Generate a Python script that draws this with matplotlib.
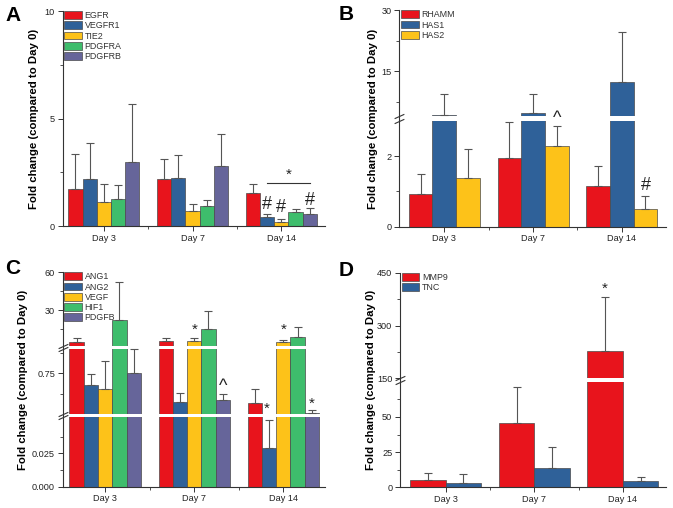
import numpy as np
import matplotlib
matplotlib.use('Agg')
import matplotlib.pyplot as plt
import matplotlib.transforms as mtransforms
from matplotlib.ticker import FixedLocator, FixedFormatter

plt.rcParams['font.family'] = ['Liberation Sans', 'DejaVu Sans']

days = ['Day 3', 'Day 7', 'Day 14']

# Panel A: receptor genes
a_names = ['EGFR', 'VEGFR1', 'TIE2', 'PDGFRA', 'PDGFRB']
a_mean = [[1.75, 2.18, 1.53],
          [2.21, 2.24, 0.43],
          [1.15, 0.70, 0.22],
          [1.25, 0.96, 0.68],
          [2.99, 2.82, 0.59]]
a_sd = [[1.62, 0.95, 0.45],
        [1.66, 1.09, 0.16],
        [0.80, 0.34, 0.12],
        [0.65, 0.28, 0.12],
        [2.71, 1.48, 0.25]]

# Panel B: hyaluronan genes
b_names = ['RHAMM', 'HAS1', 'HAS2']
b_mean = [[0.94, 1.94, 1.15],
          [4.15, 4.66, 12.3],
          [1.37, 2.28, 0.49]]
b_sd = [[0.55, 1.01, 0.58],
        [5.15, 4.64, 12.3],
        [0.83, 0.57, 0.39]]

# Panel C: growth factors
c_names = ['ANG1', 'ANG2', 'VEGF', 'HIF1', 'PDGFB']
c_mean = [[4.3, 5.1, 0.571],
          [0.678, 0.575, 0.0292],
          [0.653, 5.6, 4.8],
          [22.3, 14.7, 8.8],
          [0.755, 0.589, 0.506]]
c_sd = [[3.5, 2.7, 0.082],
        [0.069, 0.057, 0.0208],
        [0.175, 1.9, 1.4],
        [29.7, 14.3, 7.5],
        [0.145, 0.035, 0.02]]

# Panel D: matrix genes
d_names = ['MMP9', 'TNC']
d_mean = [[5.3, 45.6, 227],
          [3.4, 13.7, 4.6]]
d_sd = [[4.7, 25.4, 154],
        [6.0, 14.8, 2.8]]

red, blue, yellow, green, purple = '#E8141C', '#2F6199', '#FDC219', '#3EBD6C', '#66659A'
edge = '#4a4a4a'
axcol = '#333333'


def draw_bars(ax, names, means, sds, cols):
    n = len(names)
    w = 0.8 / n
    x = np.arange(1, 4)
    for i in range(n):
        xi = x + (i - (n - 1) / 2) * w
        ax.bar(xi, means[i], w, color=cols[i], edgecolor=edge, linewidth=0.5,
               label=names[i], zorder=2)
        ax.errorbar(xi, means[i], yerr=[np.zeros(3), sds[i]], fmt='none',
                    ecolor='#555555', elinewidth=0.8, capsize=2.8, capthick=0.8,
                    zorder=4)


def style(ax, xlim, ylim, major, labels, minor, lab_x):
    ax.set_xlim(*xlim)
    ax.set_ylim(*ylim)
    for s in ['top', 'right']:
        ax.spines[s].set_visible(False)
    for s in ['left', 'bottom']:
        ax.spines[s].set_color(axcol)
        ax.spines[s].set_linewidth(0.8)
        ax.spines[s].set_zorder(5)
    ax.yaxis.set_major_locator(FixedLocator(major))
    ax.yaxis.set_major_formatter(FixedFormatter(labels))
    ax.yaxis.set_minor_locator(FixedLocator(minor))
    ax.set_xticks([1, 2, 3])
    ax.set_xticklabels(days)
    ax.set_xticks([1.5, 2.5], minor=True)
    ax.tick_params(which='major', length=3.5, width=0.7, color=axcol,
                   labelsize=6.6, pad=2, labelcolor='#222222')
    ax.tick_params(which='minor', length=2, width=0.6, color=axcol)
    ax.set_ylabel('Fold change (compared to Day 0)', fontsize=8.2, fontweight='bold')
    ax.yaxis.set_label_coords(lab_x, 0.5)
    leg = ax.legend(loc='upper left', bbox_to_anchor=(0.006, 1.0), frameon=False,
                    fontsize=6.4, borderpad=0, borderaxespad=0, handlelength=2.0,
                    handleheight=0.95, labelspacing=0.14, handletextpad=0.3)
    for t in leg.get_texts():
        t.set_color('#333333')


def broken(ax, d_pts, s_pts, gaps):
    fwd = lambda v: np.interp(v, d_pts, s_pts)
    inv = lambda s: np.interp(s, s_pts, d_pts)
    ax.set_yscale('function', functions=(fwd, inv))
    trans = mtransforms.blended_transform_factory(ax.transAxes, ax.transData)
    for lo, hi in gaps:
        ax.axhspan(lo, hi, color='white', zorder=3, lw=0)
        ax.plot([0, 0], [lo, hi], transform=trans, ls='none', color=axcol,
                marker=[(-1, -0.45), (1, 0.45)], markersize=7, mew=0.8,
                clip_on=False, zorder=6)


def mark(ax, x, y, s, size):
    ax.text(x, y, s, ha='center', va='center', fontsize=size, color='#222222', zorder=6)


fig = plt.figure(figsize=(6.73, 5.08), dpi=100)

# A
ax = fig.add_axes([0.0932, 0.5545, 0.390, 0.4238])
draw_bars(ax, a_names, a_mean, a_sd, [red, blue, yellow, green, purple])
style(ax, (0.537, 3.494), (0, 10), [0, 5, 10], ['0', '5', '10'], [2.5, 7.5], -0.089)
mark(ax, 2.84, 1.02, '#', 13)
mark(ax, 3.0, 0.88, '#', 13)
mark(ax, 3.32, 1.21, '#', 13)
ax.plot([2.84, 3.32], [2.03, 2.03], color='#333333', lw=0.8, zorder=6)
mark(ax, 3.08, 2.4, '*', 11)

# B
ax = fig.add_axes([0.5933, 0.5537, 0.3963, 0.426])
broken(ax, [0, 3, 4, 30], [0, 106, 110.7, 216.4], [(3, 4)])
draw_bars(ax, b_names, b_mean, b_sd, [red, blue, yellow])
style(ax, (0.493, 3.498), (0, 30), [0, 2, 15, 30], ['0', '2', '15', '30'],
      [1, 7.5, 22.5], -0.081)
mark(ax, 2.267, 3.45, '^', 13)
mark(ax, 3.267, 1.18, '#', 13)

# C
ax = fig.add_axes([0.0932, 0.0423, 0.390, 0.4217])
broken(ax, [0, 0.052, 0.5, 0.9, 1, 60], [0, 69.2, 72.2, 137.5, 140, 214.2],
       [(0.052, 0.5), (0.9, 1)])
draw_bars(ax, c_names, c_mean, c_sd, [red, blue, yellow, green, purple])
style(ax, (0.524, 3.47), (0, 60), [0, 0.025, 0.75, 30, 60],
      ['0.000', '0.025', '0.75', '30', '60'],
      [0.0125, 0.0375, 0.625, 0.875, 15, 45], -0.131)
mark(ax, 2.0, 14.1, '*', 11)
mark(ax, 2.32, 0.67, '^', 13)
mark(ax, 2.81, 0.532, '*', 11)
mark(ax, 3.0, 14.1, '*', 11)
mark(ax, 3.32, 0.563, '*', 11)

# D
ax = fig.add_axes([0.5944, 0.0407, 0.3952, 0.4219])
broken(ax, [0, 75, 150, 450], [0, 105.6, 109, 214.3], [(75, 150)])
draw_bars(ax, d_names, d_mean, d_sd, [red, blue])
style(ax, (0.484, 3.488), (0, 450), [0, 25, 50, 150, 300, 450],
      ['0', '25', '50', '150', '300', '450'], [12.5, 37.5, 62.5, 225, 375], -0.09)
mark(ax, 2.8, 406, '*', 11)

# panel letters
for lx, ly, s in [(5, 20.7, 'A'), (339, 20, 'B'), (5, 274, 'C'), (339, 275.7, 'D')]:
    fig.text(lx / 673, 1 - ly / 508, s, fontsize=15, fontweight='bold', va='baseline')

fig.savefig('out.png', dpi=100)
